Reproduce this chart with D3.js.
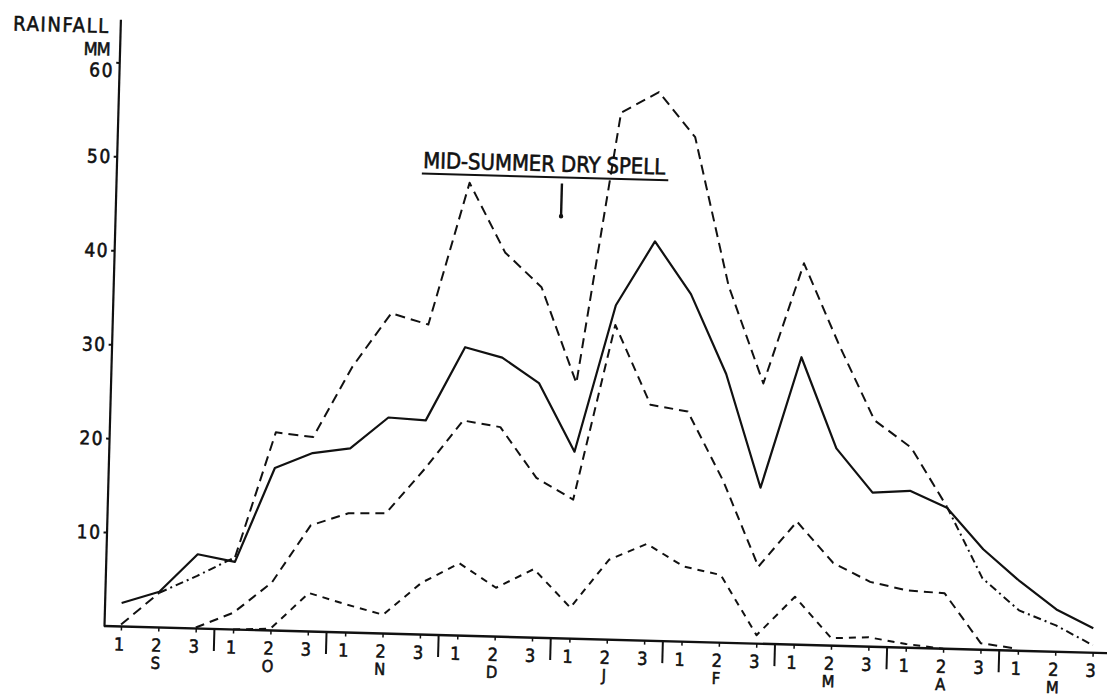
<!DOCTYPE html>
<html>
<head>
<meta charset="utf-8">
<script src="https://cdn.jsdelivr.net/npm/d3@7"></script>
<style>
  body { margin: 0; background: #fff; }
  svg { display: block; }
  text { font-family: "Liberation Sans Narrow", "DejaVu Sans Condensed", "Arial Narrow", sans-serif;
         fill: #111; stroke: #111; stroke-width: 0.55px; }
</style>
</head>
<body>
<svg id="chart" width="1107" height="698"></svg>
<script>
// Ten-day (dekad) periods, September to May
const dekads = ["1","2","3","1","2","3","1","2","3","1","2","3","1","2","3",
                "1","2","3","1","2","3","1","2","3","1","2","3"];
const months = ["S","O","N","D","J","F","M","A","M"];
const yTicks = [10, 20, 30, 40, 50, 60];

// Dekad rainfall, mm
const meanRain   = [2.5, 3.8, 7.9, 7.2, 17.3, 19.0, 19.6, 23.0, 22.8, 30.7, 29.7, 27.1, 19.9, 35.6,
                    42.5, 37.0, 28.6, 16.6, 30.6, 21.0, 16.4, 16.7, 15.0, 10.7, 7.4, 4.5, 2.6];
const upperRain  = [0.2, 3.7, 5.6, 7.7, 21.1, 20.7, 28.3, 34.1, 33.0, 48.2, 40.9, 37.3, 27.2, 56.1,
                    58.4, 53.7, 38.0, 27.7, 40.6, 32.0, 24.1, 21.3, 15.1, 7.6, 4.3, 2.8, 0.8];
const middleRain = [null, null, 0.1, 1.8, 5.1, 11.3, 12.7, 12.8, 17.6, 22.9, 22.3, 17.0, 14.8, 33.5,
                    25.1, 24.5, 17.2, 8.2, 13.1, 8.8, 6.9, 6.1, 5.9, 0.7, 0.2, null, null];
const lowerRain  = [null, null, null, 0.0, 0.2, 4.1, 3.0, 2.0, 5.5, 7.7, 5.2, 7.3, 3.3, 8.5,
                    10.3, 8.0, 7.2, 0.9, 5.1, 0.8, 1.0, 0.4, 0.0, null, null, null, null];

const svg = d3.select("#chart");

// The whole sheet sits at a slight clockwise tilt
const tilt = 1.55;
const g = svg.append("g").attr("transform", `translate(104,626) rotate(${tilt})`);

const idx = d3.range(dekads.length);
const x = d3.scalePoint().domain(idx).range([17, 989]);
const y = d3.scaleLinear().domain([0, 64.6]).range([0, -607]);
const step = x.step();

// Y axis
const yAxis = g.append("g")
  .call(d3.axisLeft(y).tickValues(yTicks).tickSize(3).tickSizeOuter(0).tickPadding(2));
yAxis.select(".domain").attr("stroke", "#111").attr("stroke-width", 2.2);
yAxis.selectAll(".tick line").attr("stroke", "#111").attr("stroke-width", 2);
yAxis.selectAll(".tick text").attr("font-size", 19).attr("letter-spacing", 1.5)
  .attr("font-family", null).attr("fill", "#111")
  .attr("dy", d => d === 60 ? "0.75em" : "0.34em");

// X axis
g.append("line").attr("x1", 0).attr("x2", 1012).attr("y1", 0).attr("y2", 0)
  .attr("stroke", "#111").attr("stroke-width", 2.4);
const xAxis = g.append("g")
  .call(d3.axisBottom(x).tickSize(4).tickPadding(7.5).tickFormat(i => dekads[i]));
xAxis.select(".domain").remove();
xAxis.selectAll(".tick line").attr("stroke", "#111").attr("stroke-width", 1.5);
xAxis.selectAll(".tick text").attr("font-size", 18).attr("font-family", null)
  .attr("fill", "#111").attr("dx", -2);

// Month separators and month names
for (let k = 1; k < months.length; k++) {
  const sx = (x(3 * k - 1) + x(3 * k)) / 2;
  g.append("line").attr("x1", sx).attr("x2", sx).attr("y1", -1).attr("y2", 22)
    .attr("stroke", "#111").attr("stroke-width", 2);
}
g.selectAll("text.month").data(months).join("text")
  .attr("class", "month")
  .attr("x", (m, k) => x(3 * k + 1) - 2)
  .attr("y", 41.5)
  .attr("text-anchor", "middle")
  .attr("font-size", 16.5)
  .text(m => m);

// Axis title
g.append("text").attr("x", -12).attr("y", y(63.1)).attr("text-anchor", "end")
  .attr("font-size", 20).attr("textLength", 95).attr("lengthAdjust", "spacing").text("RAINFALL");
g.append("text").attr("x", -9).attr("y", y(60.7)).attr("text-anchor", "end")
  .attr("font-size", 18).attr("textLength", 27).attr("lengthAdjust", "spacing").text("MM");

// Series lines, split into runs where the stroke pattern changes
function runs(values, styleAt) {
  const out = [];
  let cur = null;
  for (let i = 0; i < values.length - 1; i++) {
    if (values[i] == null || values[i + 1] == null) { cur = null; continue; }
    const s = styleAt(i);
    if (!cur || cur.style !== s) { cur = { style: s, pts: [i] }; out.push(cur); }
    cur.pts.push(i + 1);
  }
  return out;
}
function drawSeries(values, styleAt, width) {
  runs(values, styleAt).forEach(r => {
    g.append("path")
      .attr("d", d3.line().x(i => x(i)).y(i => y(values[i]))(r.pts))
      .attr("fill", "none")
      .attr("stroke", "#111")
      .attr("stroke-width", width)
      .attr("stroke-linejoin", "round")
      .attr("stroke-dasharray", r.style === "solid" ? null : r.style);
  });
}

const dashDotSpans = [[1, 3], [22, 26]];
const upperStyle = i => dashDotSpans.some(([a, b]) => i >= a && i < b) ? "8,4,2,4" : "10,6";

drawSeries(lowerRain, () => "7,6", 2);
drawSeries(middleRain, () => "9,6", 2);
drawSeries(upperRain, upperStyle, 2);
drawSeries(meanRain, () => "solid", 2.2);

// Annotation
const labelX = 306.5;
g.append("text").attr("x", labelX).attr("y", y(49.65))
  .attr("font-size", 22).attr("textLength", 242).attr("lengthAdjust", "spacing")
  .text("MID-SUMMER DRY SPELL");
g.append("line").attr("x1", labelX - 1).attr("x2", 552).attr("y1", y(49.05)).attr("y2", y(49.05))
  .attr("stroke", "#111").attr("stroke-width", 2);
const pointerX = x(11) + 0.47 * step;
g.append("line").attr("x1", pointerX).attr("x2", pointerX).attr("y1", y(48.4)).attr("y2", y(44.9))
  .attr("stroke", "#111").attr("stroke-width", 2.4);
g.append("circle").attr("cx", pointerX).attr("cy", y(44.9)).attr("r", 2.2).attr("fill", "#111");
</script>
</body>
</html>
